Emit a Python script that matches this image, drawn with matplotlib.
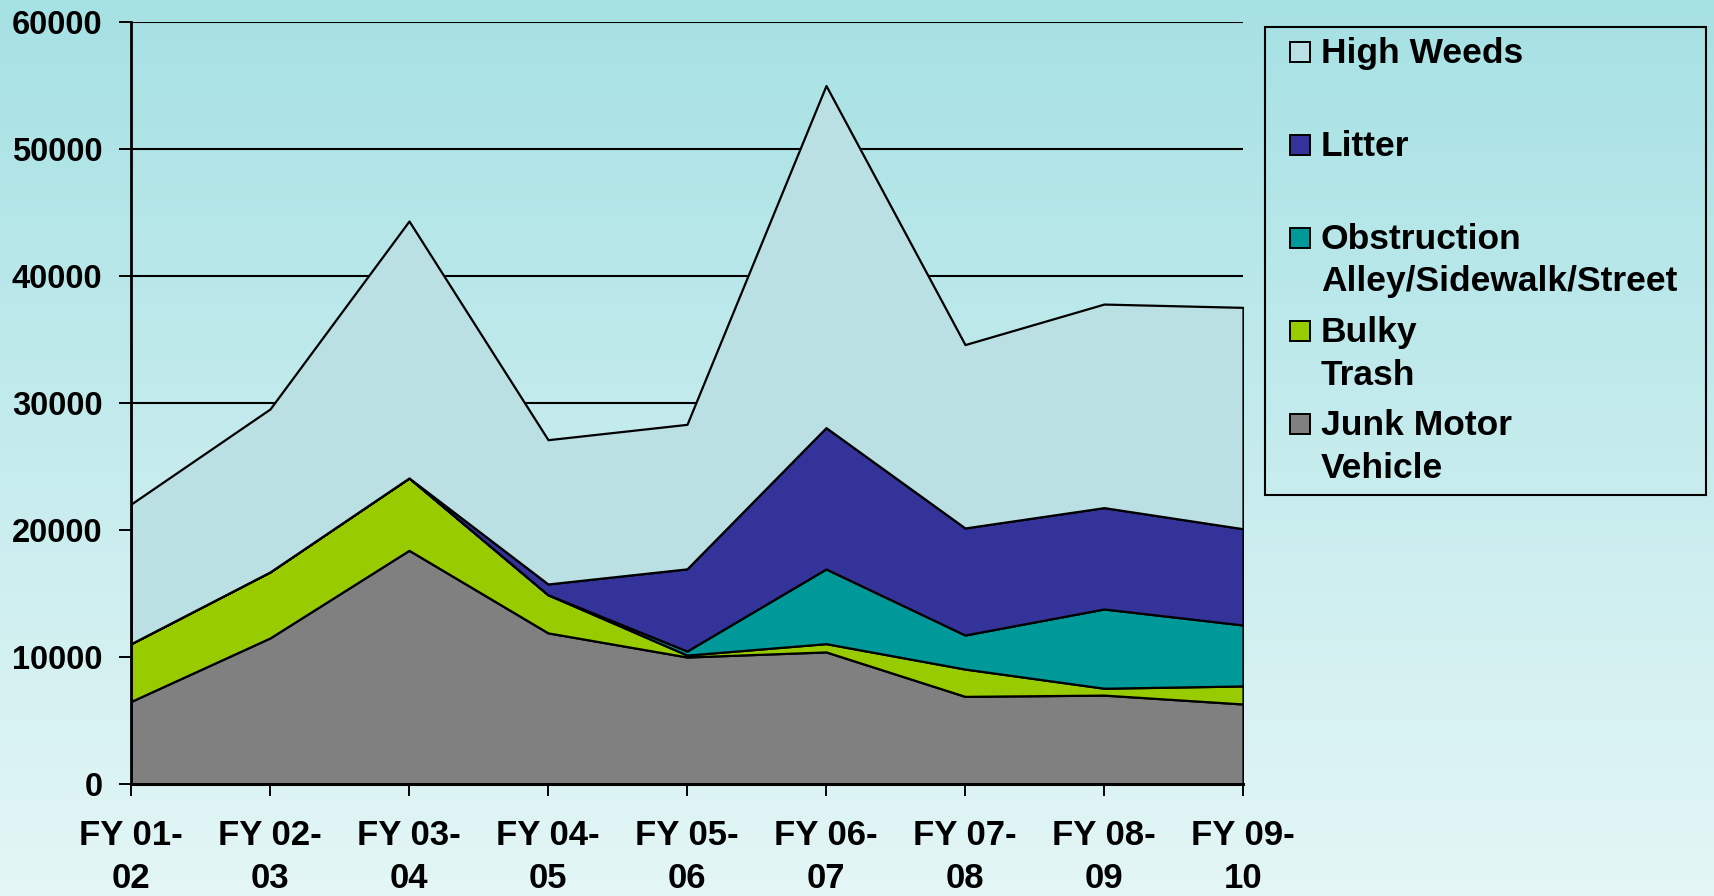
import matplotlib
matplotlib.use('Agg')
import matplotlib.pyplot as plt
import numpy as np
from matplotlib.patches import Rectangle
from matplotlib.colors import LinearSegmentedColormap

FIG_W, FIG_H = 1714, 896
DPI = 100

years = ['FY 01-\n02', 'FY 02-\n03', 'FY 03-\n04', 'FY 04-\n05', 'FY 05-\n06',
         'FY 06-\n07', 'FY 07-\n08', 'FY 08-\n09', 'FY 09-\n10']
junk_motor_vehicle = [6500, 11500, 18400, 11900, 10000, 10400, 6900, 7000, 6300]
bulky_trash = [4550, 5200, 5700, 3000, 150, 650, 2150, 540, 1420]
obstruction = [0, 0, 0, 0, 320, 5880, 2680, 6240, 4800]
litter = [0, 0, 0, 850, 6470, 11130, 8430, 7980, 7580]
high_weeds = [10990, 12830, 20230, 11360, 11380, 26940, 14440, 16030, 17430]
y_ticks = [0, 10000, 20000, 30000, 40000, 50000, 60000]

series_colors = ['#808080', '#99cc00', '#009999', '#333399', '#bbe0e3']
legend_labels = ['High Weeds', 'Litter', 'Obstruction\nAlley/Sidewalk/Street',
                 'Bulky\nTrash', 'Junk Motor\nVehicle']
legend_colors = ['#bbe0e3', '#333399', '#009999', '#99cc00', '#808080']

fig = plt.figure(figsize=(FIG_W / DPI, FIG_H / DPI), dpi=DPI)

# background gradient
ax_bg = fig.add_axes([0, 0, 1, 1], zorder=-10)
grad = np.linspace(0, 1, 256).reshape(-1, 1)
cmap = LinearSegmentedColormap.from_list('bg', ['#a6e1e4', '#e4f6f6'])
ax_bg.imshow(grad, aspect='auto', cmap=cmap, extent=[0, 1, 0, 1], origin='upper')
ax_bg.axis('off')

ax = fig.add_axes([131 / FIG_W, 1 - 784 / FIG_H, (1243 - 131) / FIG_W, (784 - 22) / FIG_H])
ax.set_facecolor('none')

x = np.arange(len(years))
ax.stackplot(x, junk_motor_vehicle, bulky_trash, obstruction, litter, high_weeds,
             colors=series_colors, edgecolor='black', linewidth=1.6, zorder=3)

ax.set_xlim(0, len(years) - 1)
ax.set_ylim(0, 60000)
ax.set_yticks(y_ticks)
ax.set_yticklabels([str(v) for v in y_ticks], fontsize=23.5, fontweight='bold',
                   family=['Liberation Sans', 'DejaVu Sans'])
ax.set_xticks(x)
ax.set_xticklabels(years, fontsize=25, fontweight='bold', linespacing=1.35,
                   family=['Liberation Sans Narrow', 'Liberation Sans'])
ax.tick_params(axis='y', direction='out', length=8.5, width=1.4, pad=12)
ax.tick_params(axis='x', direction='out', length=8.5, width=1.4, pad=17)

for yv in y_ticks[1:]:
    ax.axhline(yv, color='black', linewidth=1.5, zorder=1)

for side in ['top', 'right']:
    ax.spines[side].set_visible(False)
ax.spines['left'].set_linewidth(2.0)
ax.spines['bottom'].set_linewidth(2.2)
ax.spines['left'].set_zorder(5)
ax.spines['bottom'].set_zorder(5)

# legend box
fig.patches.append(Rectangle((1265 / FIG_W, 1 - 495 / FIG_H), (1706 - 1265) / FIG_W,
                             (495 - 27) / FIG_H, transform=fig.transFigure,
                             facecolor='none', edgecolor='black', linewidth=1.5))
for i, (lab, col) in enumerate(zip(legend_labels, legend_colors)):
    base = 63 + 93 * i
    fig.patches.append(Rectangle((1290 / FIG_W, 1 - (base - 1) / FIG_H), 20 / FIG_W, 20 / FIG_H,
                                 transform=fig.transFigure, facecolor=col,
                                 edgecolor='black', linewidth=1.4))
    for j, line in enumerate(lab.split('\n')):
        fig.text(1321 / FIG_W, 1 - (base + 42.5 * j) / FIG_H, line, fontsize=25.5,
                 fontweight='bold', va='baseline', ha='left',
                 family=['Liberation Sans', 'DejaVu Sans'])

fig.savefig('out.png', dpi=DPI)
